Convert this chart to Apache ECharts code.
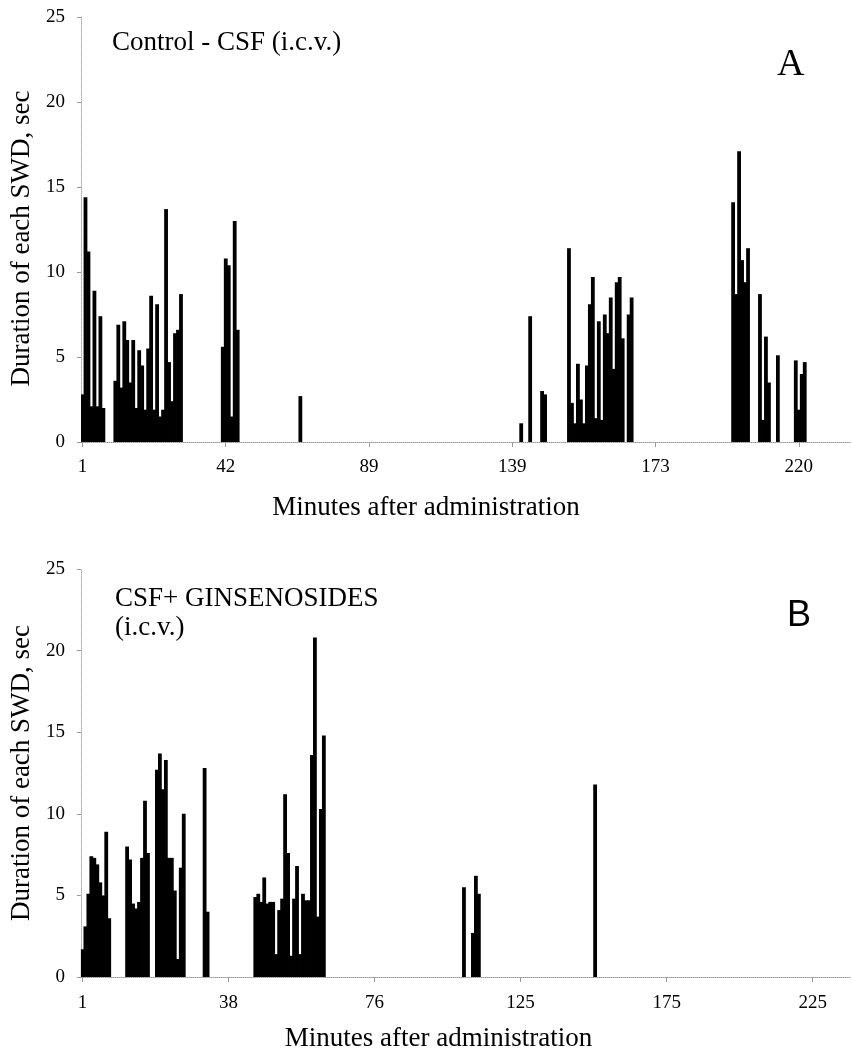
<!DOCTYPE html>
<html>
<head>
<meta charset="utf-8">
<script src="https://cdn.jsdelivr.net/npm/echarts@6/dist/echarts.min.js"></script>
<style>
html,body{margin:0;padding:0;background:#fff;}
#chart{width:852px;height:1053px;}
</style>
</head>
<body>
<div id="chart"></div>
<script>
// ---------- Panel A : Control - CSF ----------
const countA = 258;                       // number of category slots on axis A
const tickLabelsA = ['1', '42', '89', '139', '173', '220'];
const labelStepA = 48;                    // slots between labelled ticks
const startsA = [0, 11, 47, 73, 147, 150, 154, 163, 218, 227, 233, 239];
const valuesA = [
  [2.8, 14.4, 11.2, 2.1, 8.9, 2.1, 7.4, 2.0],
  [3.6, 6.9, 3.2, 7.1, 6.0, 3.5, 6.0, 2.0, 5.4, 4.5, 1.9, 5.5, 8.6, 1.9, 8.1, 1.5, 1.9, 13.7, 4.7, 2.4, 6.4, 6.6, 8.7],
  [5.6, 10.8, 10.4, 1.5, 13.0, 6.6],
  [2.7],
  [1.1],
  [7.4],
  [3.0, 2.8],
  [11.4, 2.3, 1.1, 4.6, 2.5, 1.1, 4.5, 8.1, 9.7, 1.4, 7.1, 1.3, 7.5, 6.4, 8.5, 4.3, 9.4, 9.7, 6.1, 0, 7.5, 8.5],
  [14.1, 8.7, 17.1, 10.7, 9.4, 11.4],
  [8.7, 1.3, 6.2, 3.5],
  [5.1],
  [4.8, 1.9, 4.0, 4.7]
];

// ---------- Panel B : CSF + GINSENOSIDES ----------
const countB = 258;
const tickLabelsB = ['1', '38', '76', '125', '175', '225'];
const labelStepB = 49;
const startsB = [0, 15, 25, 41, 58, 128, 131, 172];
const valuesB = [
  [1.7, 3.1, 5.1, 7.4, 7.3, 6.9, 5.8, 5.0, 8.9, 3.6],
  [8.0, 7.2, 4.5, 4.2, 4.6, 7.3, 10.8, 7.6],
  [12.7, 13.7, 11.5, 13.3, 7.3, 7.3, 5.3, 1.1, 6.7, 10.0],
  [12.8, 4.0],
  [4.9, 5.1, 4.6, 6.1, 4.5, 4.6, 4.6, 1.4, 4.1, 4.8, 11.2, 7.6, 1.3, 4.8, 6.8, 1.4, 5.1, 4.7, 4.7, 13.6, 20.8, 3.7, 10.3, 14.8],
  [5.5],
  [2.7, 6.2, 5.1],
  [11.8]
];

const yTicks = [0, 5, 10, 15, 20, 25];
const xName = 'Minutes after administration';
const yName = 'Duration of each SWD, sec';

function buildSeries(n, starts, vals) {
  const d = new Array(n).fill(0);
  starts.forEach((s, k) => vals[k].forEach((v, j) => { d[s + j] = v; }));
  return d;
}
const slotsA = Array.from({length: countA}, (_, i) => String(i));
const slotsB = Array.from({length: countB}, (_, i) => String(i));
const dataA = buildSeries(countA, startsA, valuesA);
const dataB = buildSeries(countB, startsB, valuesB);

const serif = 'Liberation Serif, Times New Roman, serif';

function xAxisFor(gridIndex, cats, labels, step, nameGap, labelMargin, namePad) {
  return {
    type: 'category', gridIndex, data: cats, boundaryGap: true,
    name: xName, nameLocation: 'middle', nameGap,
    nameTextStyle: {fontFamily: serif, fontSize: 27, color: '#000', padding: namePad},
    axisLine: {show: true, lineStyle: {color: '#999', type: 'dotted', width: 1}},
    axisTick: {show: true, interval: step - 1, alignWithLabel: true, length: 5, lineStyle: {color: '#999'}},
    axisLabel: {
      interval: step - 1, margin: labelMargin, fontFamily: serif, fontSize: 19, color: '#000',
      formatter: (v, idx) => (idx % step === 0 && labels[idx / step] !== undefined) ? labels[idx / step] : ''
    },
    splitLine: {show: false}
  };
}
function yAxisFor(gridIndex, nameGap, namePad) {
  return {
    type: 'value', gridIndex, min: yTicks[0], max: yTicks[yTicks.length - 1], interval: 5,
    name: yName, nameLocation: 'middle', nameGap, nameRotate: 90,
    nameTextStyle: {fontFamily: serif, fontSize: 27, color: '#000', padding: namePad},
    axisLine: {show: true, lineStyle: {color: '#aaa', type: 'dotted', width: 1}},
    axisTick: {show: true, length: 4, lineStyle: {color: '#999'}},
    axisLabel: {margin: 16, fontFamily: serif, fontSize: 19, color: '#000'},
    splitLine: {show: false}
  };
}

const barStyle = {color: '#000'};

const chart = echarts.init(document.getElementById('chart'), null, {renderer: 'canvas'});
chart.setOption({
  animation: false,
  backgroundColor: '#fff',
  title: [
    {text: 'Control - CSF (i.c.v.)', left: 112, top: 29, padding: 0,
     textStyle: {fontFamily: serif, fontSize: 27, fontWeight: 'normal', color: '#000'}},
    {text: 'A', left: 777, top: 46, padding: 0,
     textStyle: {fontFamily: serif, fontSize: 38, fontWeight: 'normal', color: '#000'}},
    {text: 'CSF+ GINSENOSIDES', left: 115, top: 585, padding: 0,
     textStyle: {fontFamily: serif, fontSize: 27, fontWeight: 'normal', color: '#000'}},
    {text: '(i.c.v.)', left: 115, top: 614, padding: 0,
     textStyle: {fontFamily: serif, fontSize: 27, fontWeight: 'normal', color: '#000'}},
    {text: 'B', left: 787, top: 598, padding: 0,
     textStyle: {fontFamily: 'Liberation Sans, Arial, sans-serif', fontSize: 36, fontWeight: 'normal', color: '#000'}}
  ],
  grid: [
    {left: 81, right: 1, top: 17, height: 425},
    {left: 78, right: 2, top: 569, height: 413}
  ],
  xAxis: [
    xAxisFor(0, slotsA, tickLabelsA, labelStepA, 52, 16, [0, 80, 0, 0]),
    xAxisFor(1, slotsB, tickLabelsB, labelStepB, 48, 17, [0, 54, 0, 0])
  ],
  yAxis: [yAxisFor(0, 43, [0, 18, 0, 0]), yAxisFor(1, 41, [0, 0, 0, 0])],
  series: [
    {type: 'bar', xAxisIndex: 0, yAxisIndex: 0, data: dataA, barWidth: 3.8,
     itemStyle: barStyle, silent: true},
    {type: 'bar', xAxisIndex: 1, yAxisIndex: 1, data: dataB, barWidth: 3.8,
     itemStyle: barStyle, silent: true}
  ]
});
</script>
</body>
</html>
